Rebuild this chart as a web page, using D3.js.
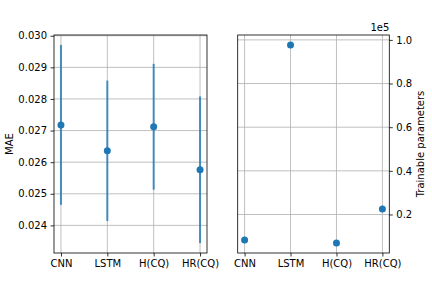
<!DOCTYPE html>
<html>
<head>
<meta charset="utf-8">
<script src="https://cdn.jsdelivr.net/npm/d3@7"></script>
<style>
body { margin: 0; background: #fff; }
svg { font-family: "DejaVu Sans", sans-serif; }
.tick text { font-size: 10px; fill: #000; }
.tick line { stroke: #000; stroke-width: 0.8; }
</style>
</head>
<body>
<svg id="chart" width="432" height="288"></svg>
<script>
// models
const models = ["CNN", "LSTM", "H(CQ)", "HR(CQ)"];
// mean MAE with std
const maeMean = [0.02718, 0.02636, 0.02712, 0.02576];
const maeErr = [0.00253, 0.00222, 0.00199, 0.00232];
// trainable params
const params = [8300, 97700, 6900, 22500];

const maeTicks = [0.024, 0.025, 0.026, 0.027, 0.028, 0.029, 0.030];
const paramTicks = [20000, 40000, 60000, 80000, 100000];

const BLUE = "#1f77b4";
const GRID = "#b0b0b0";

const svg = d3.select("#chart");
const plotTop = 35, plotBottom = 253;

// shared x setup, matplotlib style margins
function xScaleFor(left, right) {
	return d3.scaleLinear().domain([-0.15, models.length - 1 + 0.15]).range([left, right]);
}

function drawGrid(g, x, y, yTicks, left, right) {
	g.selectAll(".vgrid").data(models).join("line")
		.attr("x1", (d, i) => x(i)).attr("x2", (d, i) => x(i))
		.attr("y1", plotTop).attr("y2", plotBottom)
		.attr("stroke", GRID).attr("stroke-width", 0.8);
	g.selectAll(".hgrid").data(yTicks).join("line")
		.attr("x1", left).attr("x2", right)
		.attr("y1", d => y(d)).attr("y2", d => y(d))
		.attr("stroke", GRID).attr("stroke-width", 0.8);
}

function frame(g, left, right) {
	g.append("rect")
		.attr("x", left).attr("y", plotTop)
		.attr("width", right - left).attr("height", plotBottom - plotTop)
		.attr("fill", "none").attr("stroke", "#000").attr("stroke-width", 0.8);
}

function cleanAxis(a) {
	a.select(".domain").remove();
	a.attr("font-family", null).attr("font-size", null);
}

// left panel: MAE
(function leftPanel() {
	const left = 54, right = 207;
	const x = xScaleFor(left, right);
	const lo = d3.min(maeMean, (d, i) => d - maeErr[i]);
	const hi = d3.max(maeMean, (d, i) => d + maeErr[i]);
	const pad = (hi - lo) * 0.05;
	const y = d3.scaleLinear().domain([lo - pad, hi + pad]).range([plotBottom, plotTop]);

	const g = svg.append("g");
	drawGrid(g.append("g"), x, y, maeTicks, left, right);

	g.append("g").selectAll("line").data(models).join("line")
		.attr("x1", (d, i) => x(i)).attr("x2", (d, i) => x(i))
		.attr("y1", (d, i) => y(maeMean[i] - maeErr[i]))
		.attr("y2", (d, i) => y(maeMean[i] + maeErr[i]))
		.attr("stroke", BLUE).attr("stroke-width", 2).attr("stroke-opacity", 0.8);

	g.append("g").selectAll("circle").data(maeMean).join("circle")
		.attr("cx", (d, i) => x(i)).attr("cy", d => y(d))
		.attr("r", 3.5).attr("fill", BLUE);

	g.append("g")
		.attr("transform", `translate(${left},0)`)
		.call(d3.axisLeft(y).tickValues(maeTicks).tickFormat(d3.format(".3f")).tickSize(3.5).tickPadding(3.5))
		.call(cleanAxis);

	g.append("g")
		.attr("transform", `translate(0,${plotBottom})`)
		.call(d3.axisBottom(x).tickValues(d3.range(models.length)).tickFormat(i => models[i]).tickSize(3.5).tickPadding(3.5))
		.call(cleanAxis);

	frame(g, left, right);

	svg.append("text")
		.attr("transform", `translate(9,${(plotTop + plotBottom) / 2}) rotate(-90)`)
		.attr("text-anchor", "middle").attr("dy", "0.35em")
		.attr("font-size", 10).text("MAE");
})();

// right panel: trainable parameters
(function rightPanel() {
	const left = 237.7, right = 389.3;
	const x = xScaleFor(left, right);
	const lo = d3.min(params), hi = d3.max(params);
	const pad = (hi - lo) * 0.05;
	const y = d3.scaleLinear().domain([lo - pad, hi + pad]).range([plotBottom, plotTop]);

	const g = svg.append("g");
	drawGrid(g.append("g"), x, y, paramTicks, left, right);

	g.append("g").selectAll("circle").data(params).join("circle")
		.attr("cx", (d, i) => x(i)).attr("cy", d => y(d))
		.attr("r", 3.5).attr("fill", BLUE);

	g.append("g")
		.attr("transform", `translate(${right},0)`)
		.call(d3.axisRight(y).tickValues(paramTicks).tickFormat(d => (d / 1e5).toFixed(1)).tickSize(3.5).tickPadding(3.5))
		.call(cleanAxis);

	g.append("g")
		.attr("transform", `translate(0,${plotBottom})`)
		.call(d3.axisBottom(x).tickValues(d3.range(models.length)).tickFormat(i => models[i]).tickSize(3.5).tickPadding(3.5))
		.call(cleanAxis);

	frame(g, left, right);

	svg.append("text")
		.attr("x", right).attr("y", 31)
		.attr("text-anchor", "end").attr("font-size", 10).text("1e5");

	svg.append("text")
		.attr("transform", `translate(420,${(plotTop + plotBottom) / 2}) rotate(-90)`)
		.attr("text-anchor", "middle").attr("dy", "0.35em")
		.attr("font-size", 10).text("Trainable parameters");
})();
</script>
</body>
</html>
